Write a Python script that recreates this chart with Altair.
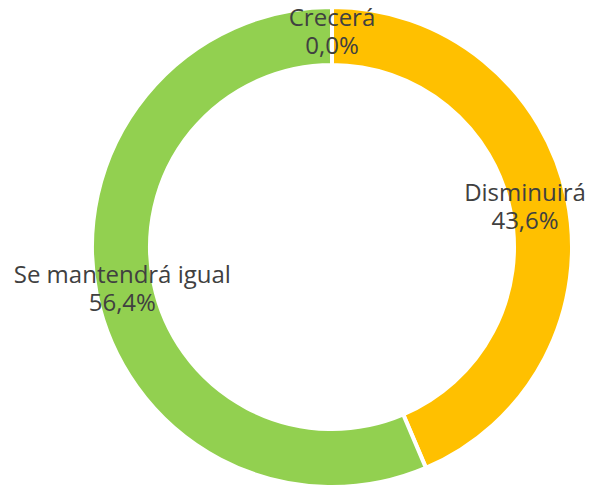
import altair as alt
import pandas as pd
import math

categories = ["Crecerá", "Disminuirá", "Se mantendrá igual"]
values = [0.0, 43.6, 56.4]
labels = ["0,0%", "43,6%", "56,4%"]
colors = ["#5B9BD5", "#FFC000", "#92D050"]

df = pd.DataFrame({
    "cat": categories,
    "value": values,
    "pct": labels,
    "order": list(range(len(categories))),
})
df["text"] = [[c, p] for c, p in zip(df["cat"], df["pct"])]

CX, CY = 324, 239

arcs = alt.Chart(df).mark_arc(outerRadius=240, innerRadius=182, stroke="white", strokeWidth=4).encode(
    theta=alt.Theta("value:Q", stack=True),
    order=alt.Order("order:Q"),
    x=alt.value(CX),
    y=alt.value(CY),
    color=alt.Color("cat:N", scale=alt.Scale(domain=categories, range=colors), legend=None),
)

text_style = dict(font="Open Sans", fontSize=24, color="#404040",
                  lineHeight=28, baseline="middle", align="center", dy=-14)

text_base = alt.Chart(df).transform_window(
    cum="sum(value)", sort=[alt.SortField("order")], frame=[None, 0]
).transform_joinaggregate(
    total="sum(value)"
).transform_calculate(
    mid="datum.cum - datum.value / 2"
).encode(
    theta=alt.Theta("mid:Q", stack=None,
                    scale=alt.Scale(domain=[0, 100], range=[0, 2 * math.pi])),
    x=alt.value(CX),
    y=alt.value(CY),
    text="text",
)

text_main = text_base.transform_filter(alt.datum.cat != "Disminuirá").mark_text(radius=214, **text_style)
text_right = text_base.transform_filter(alt.datum.cat == "Disminuirá").mark_text(radius=197, **text_style)

chart = (arcs + text_main + text_right).properties(
    width=586, height=481, padding=0,
    autosize=alt.AutoSizeParams(type="none"),
).resolve_scale(theta="independent").configure_view(stroke=None)

chart.save("out.html", embed_options={"renderer": "svg", "actions": False})
